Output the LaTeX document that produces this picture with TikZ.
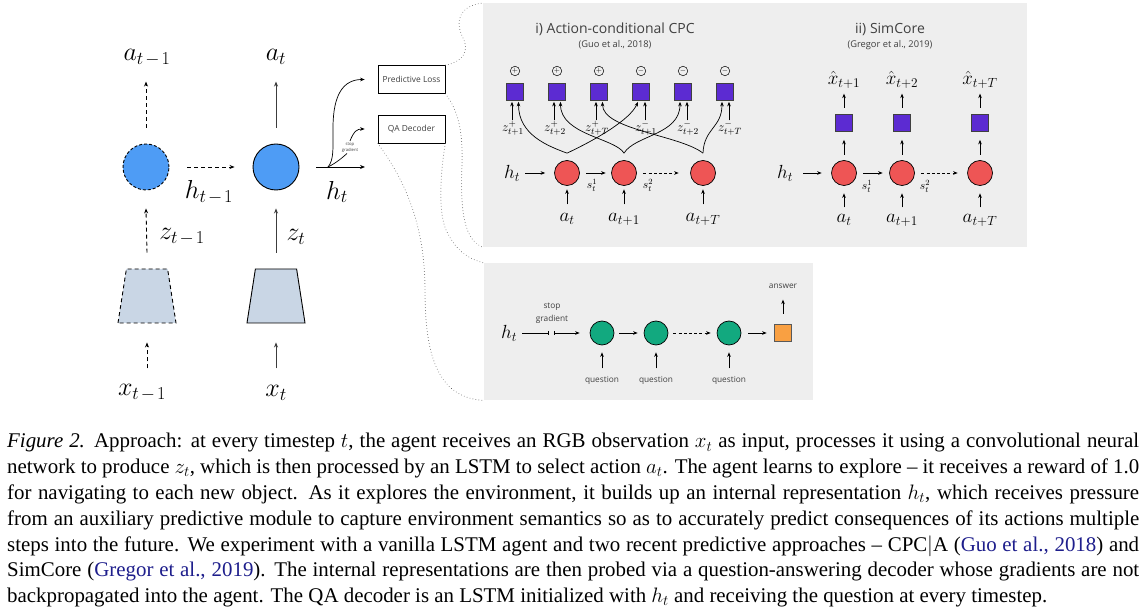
\RequirePackage{fix-cm}
\documentclass[tikz,border=0pt]{standalone}
\usepackage{fontspec}
\usetikzlibrary{arrows.meta,shapes.geometric,calc}
\newfontfamily\capfont{Liberation Serif}
\newfontfamily\dsans{Open Sans}
\definecolor{panelgray}{HTML}{EEEEEE}
\definecolor{lstmblue}{HTML}{4E9CF5}
\definecolor{cnnfill}{HTML}{C9D6E5}
\definecolor{predpurple}{HTML}{5C2BD2}
\definecolor{cellred}{HTML}{EE5555}
\definecolor{qagreen}{HTML}{12A97F}
\definecolor{ansorange}{HTML}{F9A042}
\definecolor{citeblue}{HTML}{1E1E8C}
\definecolor{arrgray}{HTML}{3C3C3C}
\definecolor{dsgray}{HTML}{404040}
\tikzset{
 arr/.style={draw=black, line width=0.7pt, -{Stealth[length=4.5pt,width=3.6pt]}},
 darr/.style={arr, dash pattern=on 3pt off 2.2pt},
 garr/.style={draw=arrgray, line width=1pt, -{Stealth[length=5pt,width=4pt]}},
 gdarr/.style={draw=black, line width=0.9pt, dash pattern=on 4pt off 3pt, -{Stealth[length=5pt,width=4pt]}},
 lstm/.style={circle, draw=black, line width=0.9pt, fill=lstmblue, minimum size=46pt, inner sep=0},
 cnn/.style={trapezium, trapezium left angle=78.5, trapezium right angle=78.5, trapezium stretches=true, minimum width=58pt, minimum height=54pt, draw=black, line width=0.9pt, fill=cnnfill, inner sep=1pt},
 bigm/.style={inner sep=0, font=\fontsize{26}{26}\selectfont},
 midm/.style={inner sep=0, font=\fontsize{19}{19}\selectfont},
 smm/.style={inner sep=0, font=\fontsize{13}{13}\selectfont},
 tinym/.style={inner sep=0, font=\fontsize{11.5}{11.5}\selectfont},
 lossbox/.style={draw=black, line width=0.7pt, minimum width=67pt, minimum height=28pt, inner sep=0, fill=white, font=\dsans\fontsize{8.4}{10}\selectfont, text=dsgray},
 panel/.style={fill=panelgray, draw=none, inner sep=0},
 cell/.style={circle, draw=black, line width=0.7pt, fill=cellred, minimum size=25pt, inner sep=0},
 qcell/.style={circle, draw=black, line width=0.7pt, fill=qagreen, minimum size=24pt, inner sep=0},
 psq/.style={draw=black!75, line width=0.7pt, fill=predpurple, minimum size=17pt, inner sep=0},
 asq/.style={draw=black!65, line width=0.7pt, fill=ansorange, minimum size=17pt, inner sep=0},
 sign/.style={circle, draw=black, line width=0.5pt, minimum size=9.5pt, inner sep=0, font=\fontsize{7}{7}\selectfont},
 ttl/.style={inner sep=0, font=\dsans\fontsize{14}{16}\selectfont, text=dsgray},
 cite/.style={inner sep=0, font=\dsans\fontsize{9.3}{11}\selectfont, text=dsgray},
 qlab/.style={inner sep=0, font=\dsans\fontsize{8.3}{12.5}\selectfont, text=dsgray},
 dotc/.style={draw=black!60, line width=0.9pt, dash pattern=on 0.01pt off 3pt, line cap=round},
}
\begin{document}
\begin{tikzpicture}[x=1pt,y=-1pt]
\useasboundingbox[fill=white] (0,0) rectangle (1141,609);
% panels
\node[panel, anchor=north west, minimum width=544pt, minimum height=244pt] (toppanel) at (483,3) {};
\node[panel, anchor=north west, minimum width=329pt, minimum height=137pt] (botpanel) at (484,263) {};

% ---------------- left agent ----------------
\node[lstm, dash pattern=on 3pt off 2pt] (lstm1) at (146,167) {};
\node[lstm] (lstm2) at (276,167) {};
\node[cnn, dash pattern=on 4pt off 3pt] (cnn1) at (147,296) {};
\node[cnn] (cnn2) at (276,296) {};
\node[bigm] (atm1) at (147,58) {$a_{t\mkern2mu-\mkern2mu1}$};
\node[bigm] (at) at (276,57) {$a_t$};
\node[bigm] (htm1) at (209,192) {$h_{t\mkern2mu-\mkern2mu1}$};
\node[bigm] (ht) at (337,192) {$h_t$};
\node[bigm] (ztm1) at (182,237) {$z_{t\mkern2mu-\mkern2mu1}$};
\node[bigm] (zt) at (296,237) {$z_t$};
\node[bigm] (xtm1) at (142,393) {$x_{t\mkern2mu-\mkern2mu1}$};
\node[bigm] (xt) at (276,393) {$x_t$};

\draw[gdarr] ([yshift=16pt]lstm1.north) -- ([yshift=62pt]lstm1.north);
\draw[garr] ([yshift=16pt]lstm2.north) -- ([yshift=62pt]lstm2.north);
\draw[gdarr] ([yshift=16pt]cnn1.north) -- ([yshift=-18pt]lstm1.south);
\draw[garr] ([yshift=16pt]cnn2.north) -- ([yshift=-18pt]lstm2.south);
\draw[gdarr] ([yshift=-45pt]cnn1.south) -- ([yshift=-19pt]cnn1.south);
\draw[garr] ([yshift=-45pt]cnn2.south) -- ([yshift=-19pt]cnn2.south);
\draw[gdarr] ([xshift=18pt]lstm1.east) -- ([xshift=-18pt]lstm2.west);

% boxes
\node[lossbox] (pl) at (411.5,79.5) {Predictive Loss};
\node[lossbox] (qa) at (411.5,129) {QA Decoder};

\coordinate (split) at (328,167);
\coordinate (hend) at (365,167);
\draw[draw=black, line width=0.9pt, -{Stealth[length=5pt,width=4pt]}] ([xshift=17pt]lstm2.east) -- (hend);
\draw[arr] (split) .. controls (334,160) and (333,148) .. (333,128) .. controls (333,95) and (343,79.5) .. ([xshift=-13pt]pl.west);
\node[inner sep=0, align=center, font=\dsans\fontsize{4.2}{6}\selectfont, text=dsgray] (sg1) at (350,147.5) {stop\\gradient};
\draw[line width=0.7pt] (split) .. controls (336,163) and (342,158) .. (347,153.5);
\draw[arr] ([yshift=1.5pt]sg1.north) .. controls (354,131) and (357,129) .. ([xshift=-13pt]qa.west);

% dotted connectors
\draw[dotc] (pl.north east) .. controls (462,62) and (470,52) .. (463,38) .. controls (455,22) and (458,6) .. (toppanel.north west);
\draw[dotc] (pl.south east) .. controls (458,110) and (463,130) .. (462,165) .. controls (460,215) and (465,240) .. (toppanel.south west);
\draw[dotc] (qa.south east) .. controls (440,175) and (438,215) .. (447,232) .. controls (455,248) and (465,258) .. (botpanel.north west);
\draw[dotc] (qa.south west) .. controls (405,180) and (425,225) .. (425,290) .. controls (425,350) and (435,398) .. (botpanel.south west);

% ---------------- i) CPC|A ----------------
\node[ttl] (cpct) at (615,29) {i) Action-conditional CPC};
\node[cite] (cpcc) at (615,45) {(Guo et al., 2018)};
\foreach \i/\x/\sg in {1/515/+,2/557/+,3/599/+,4/641/-,5/683/-,6/725/-} {
  \node[psq] (q\i) at (\x,91.5) {};
  \node[sign] (sgn\i) at (\x,71) {$\sg$};
}
\foreach \i/\lab in {1/{t+1},2/{t+2},3/{t+T}} {
  \draw[arr] ([xshift=-3pt,yshift=-20pt]q\i.south) -- ([xshift=-3pt,yshift=-1.5pt]q\i.south);
  \node[smm] (zp\i) at ([xshift=-2pt,yshift=-28pt]q\i.south) {$z^{+}_{\lab}$};
}
\foreach \i/\j/\lab in {4/1/{t+1},5/2/{t+2},6/3/{t+T}} {
  \draw[arr] ([xshift=4pt,yshift=-20pt]q\i.south) -- ([xshift=4pt,yshift=-1.5pt]q\i.south);
  \node[smm] (zn\j) at ([xshift=5pt,yshift=-28pt]q\i.south) {$z^{-}_{\lab}$};
}
\node[cell] (c1) at (567,173) {};
\node[cell] (c2) at (624,173) {};
\node[cell] (c3) at (703,173) {};
\coordinate (j1) at ([yshift=7pt]c1.north);
\coordinate (j2) at ([yshift=7pt]c2.north);
\coordinate (j3) at ([yshift=7pt]c3.north);
\draw[arr] (j1) .. controls (548,146) and (518.5,135) .. ([xshift=3.5pt,yshift=-1.5pt]q1.south);
\draw[arr] (j1) .. controls (595,140) and (630,120) .. ([xshift=-3pt,yshift=-1.5pt]q4.south);
\draw[arr] (j2) .. controls (615,138) and (560.5,135) .. ([xshift=3.5pt,yshift=-1.5pt]q2.south);
\draw[arr] (j2) .. controls (635,135) and (680,135) .. ([xshift=-3pt,yshift=-1.5pt]q5.south);
\draw[arr] (j3) .. controls (680,135) and (602.5,130) .. ([xshift=3.5pt,yshift=-1.5pt]q3.south);
\draw[arr] (j3) .. controls (704,128) and (722,128) .. ([xshift=-3pt,yshift=-1.5pt]q6.south);

\node[midm] (cpch) at (512,173) {$h_t$};
\draw[arr] ([xshift=5pt]cpch.east) -- ([xshift=-9pt]c1.west);
\draw[arr, shorten <=6.5pt, shorten >=5.5pt] (c1) -- (c2);
\draw[darr, shorten <=6.5pt, shorten >=11.5pt] (c2) -- (c3);
\node[tinym] (cs1) at (592,185.5) {$s^1_t$};
\node[tinym] (cs2) at (648,185.5) {$s^2_t$};
\foreach \i in {1,2,3} {
  \draw[arr] ([yshift=-18.5pt]c\i.south) -- ([yshift=-3.5pt]c\i.south);
}
\node[midm] (ca1) at (567,219) {$a_t$};
\node[midm] (ca2) at (624,219) {$a_{t+1}$};
\node[midm] (ca3) at (703,219) {$a_{t+T}$};

% ---------------- ii) SimCore ----------------
\node[ttl] (simt) at (890,29) {ii) SimCore};
\node[cite] (simc) at (890,45) {(Gregor et al., 2019)};
\node[cell] (d1) at (844,173) {};
\node[cell] (d2) at (902,173) {};
\node[cell] (d3) at (980,173) {};
\node[psq] (r1) at (844,123) {};
\node[psq] (r2) at (902,123) {};
\node[psq] (r3) at (980,123) {};
\foreach \i in {1,2,3} {
  \draw[arr] ([yshift=5.5pt]d\i.north) -- ([yshift=-8pt]r\i.south);
  \draw[arr] ([yshift=6.5pt]r\i.north) -- ([yshift=20.5pt]r\i.north);
  \draw[arr] ([yshift=-21.5pt]d\i.south) -- ([yshift=-7.5pt]d\i.south);
}
\node[midm] (xh1) at (844,80) {$\hat{x}_{t+1}$};
\node[midm] (xh2) at (902,80) {$\hat{x}_{t+2}$};
\node[midm] (xh3) at (980,80) {$\hat{x}_{t+T}$};
\node[midm] (sch) at (785,173) {$h_t$};
\draw[arr] ([xshift=10pt]sch.east) -- ([xshift=-9.5pt]d1.west);
\draw[arr, shorten <=6.5pt, shorten >=6.5pt] (d1) -- (d2);
\draw[darr, shorten <=6.5pt, shorten >=9.5pt] (d2) -- (d3);
\node[tinym] (ds1) at (867,186.5) {$s^1_t$};
\node[tinym] (ds2) at (925,186.5) {$s^2_t$};
\node[midm] (da1) at (844,220) {$a_t$};
\node[midm] (da2) at (902,220) {$a_{t+1}$};
\node[midm] (da3) at (980,220) {$a_{t+T}$};

% ---------------- QA decoder ----------------
\node[midm] (qh) at (509,333) {$h_t$};
\node[qcell] (e1) at (602,333) {};
\node[qcell] (e2) at (656,333) {};
\node[qcell] (e3) at (729,333) {};
\node[asq] (ans) at (783,333) {};
\coordinate (sgb) at (551.5,333);
\draw[line width=0.7pt, -{Bar[width=4pt]}] ([xshift=5pt]qh.east) -- ([xshift=-2.5pt]sgb);
\draw[line width=0.7pt, {Bar[width=4pt]}-{Stealth[length=4.5pt,width=3.6pt]}] ([xshift=2.5pt]sgb) -- ([xshift=-10pt]e1.west);
\node[qlab, align=center] (sgt) at (552,313.5) {stop\\gradient};
\draw[arr, shorten <=5pt, shorten >=6pt] (e1) -- (e2);
\draw[darr, shorten <=5pt, shorten >=6pt] (e2) -- (e3);
\draw[arr, shorten <=7pt, shorten >=7.5pt] (e3) -- (ans);
\draw[arr] ([yshift=10.5pt]ans.north) -- ([yshift=24.5pt]ans.north);
\node[qlab] (anst) at (783,286) {answer};
\foreach \i/\x in {1/602,2/656,3/729} {
  \draw[arr] ([yshift=-23pt]e\i.south) -- ([yshift=-7pt]e\i.south);
  \node[qlab] (qq\i) at (\x,380) {question};
}

% ---------------- caption ----------------
\node[anchor=base west, inner sep=0, font=\capfont\fontsize{20.9}{25.8}\selectfont] (caption) at (7,448) {\vtop{%
\hbox to 1132pt{\textit{Figure 2.} Approach: at every timestep $t$, the agent receives an RGB observation $x_t$ as input, processes it using a convolutional neural}%
\hbox to 1132pt{network to produce $z_t$, which is then processed by an LSTM to select action $a_t$. The agent learns to explore – it receives a reward of 1.0}%
\hbox to 1132pt{for navigating to each new object. As it explores the environment, it builds up an internal representation $h_t$, which receives pressure}%
\hbox to 1132pt{from an auxiliary predictive module to capture environment semantics so as to accurately predict consequences of its actions multiple}%
\hbox to 1132pt{steps into the future. We experiment with a vanilla LSTM agent and two recent predictive approaches – CPC$|$A ({\color{citeblue}Guo et al., 2018}) and}%
\hbox to 1132pt{SimCore ({\color{citeblue}Gregor et al., 2019}). The internal representations are then probed via a question-answering decoder whose gradients are not}%
\hbox{backpropagated into the agent. The QA decoder is an LSTM initialized with $h_t$ and receiving the question at every timestep.}}%
};
\end{tikzpicture}
\end{document}
